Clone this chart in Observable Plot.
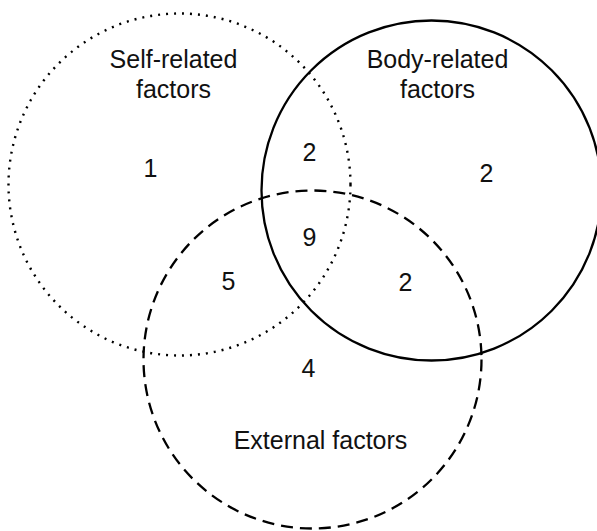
<!DOCTYPE html>
<html>
<head>
<meta charset="utf-8">
<script src="https://cdn.jsdelivr.net/npm/d3@7"></script>
<script src="https://cdn.jsdelivr.net/npm/@observablehq/plot@0.6"></script>
<style>
  html, body { margin: 0; padding: 0; background: #fff; }
  svg { display: block; }
</style>
</head>
<body>
<div id="chart"></div>
<script>
// Sets (circles) in a 597 x 531 layout coordinate system
const setNames = ["Self-related factors", "Body-related factors", "External factors"];
const setLabels = ["Self-related\nfactors", "Body-related\nfactors", "External factors"];
const setCx = [179, 431, 312];
const setCy = [184, 190, 359];
const setR = [171, 170, 169];
const setLabelX = [173, 437, 320];
const setLabelY = [73, 73, 439];
const setDash = ["2,6", null, "12,7"];

// Region counts
const regionNames = ["Self only", "Self ∩ Body", "Body only", "All three", "Self ∩ External", "Body ∩ External", "External only"];
const regionValues = [1, 2, 2, 9, 5, 2, 4];
const regionX = [150, 309, 486, 309, 228, 405, 308];
const regionY = [168, 152, 173, 237, 281, 282, 368];

const sets = setNames.map((name, i) => ({name, label: setLabels[i], cx: setCx[i], cy: setCy[i], r: setR[i], lx: setLabelX[i], ly: setLabelY[i], dash: setDash[i]}));
const regions = regionNames.map((name, i) => ({name, value: regionValues[i], x: regionX[i], y: regionY[i]}));

const font = "'Liberation Sans', Arial, Helvetica, sans-serif";

const chart = Plot.plot({
  width: 597,
  height: 531,
  margin: 0,
  x: {domain: [0, 597], range: [0, 597], axis: null},
  y: {domain: [0, 531], range: [0, 531], axis: null},
  r: {type: "identity"},
  style: {fontFamily: font, background: "#fff"},
  marks: [
    ...sets.map(s => Plot.dot([s], {
      x: "cx", y: "cy", r: "r",
      fill: "none", stroke: "black", strokeWidth: s.dash === "2,6" ? 2.4 : 2.3,
      strokeDasharray: s.dash ?? undefined
    })),
    Plot.text(sets, {x: "lx", y: "ly", text: "label", fontSize: 25, lineHeight: 1.2, fill: "#111"}),
    Plot.text(regions, {x: "x", y: "y", text: d => String(d.value), fontSize: 25, fill: "#111"})
  ]
});
document.getElementById("chart").appendChild(chart);
</script>
</body>
</html>
